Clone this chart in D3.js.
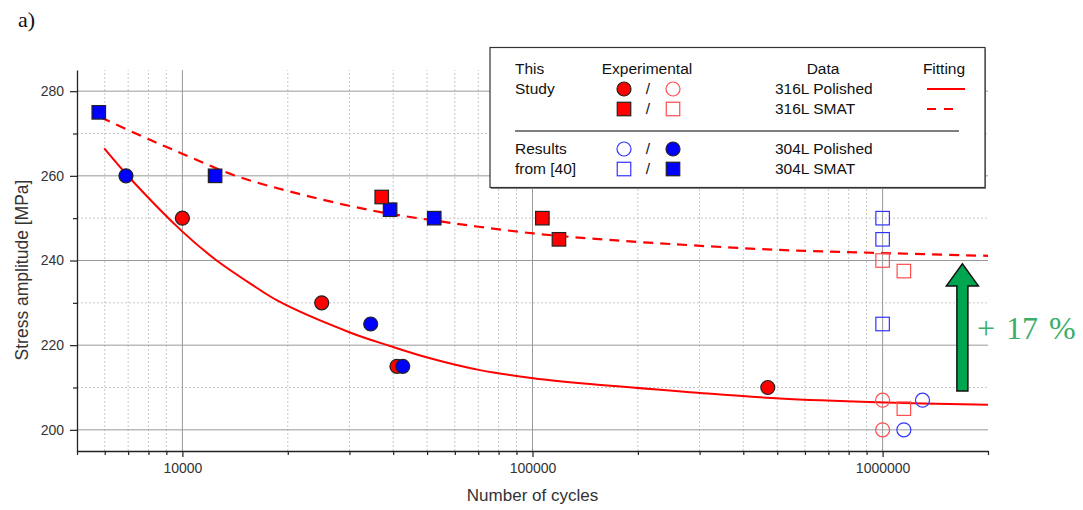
<!DOCTYPE html>
<html lang="en">
<head>
<meta charset="UTF-8">
<title>Stress amplitude vs number of cycles</title>
<style>
  body { margin: 0; background: #fff; }
  svg { display: block; }
</style>
</head>
<body>
<script src="https://cdn.jsdelivr.net/npm/d3@7"></script>
<script>
// this study, 316L polished: filled = failure, open = run-out
const polished316 = [[10000, 250], [25000, 230], [41000, 215], [470000, 210]];
const polished316Open = [[1000000, 207], [1000000, 200]];
// this study, 316L SMAT
const smat316 = [[37100, 255], [106700, 250], [119000, 245]];
const smat316Open = [[1000000, 240], [1150000, 237.5], [1150000, 205]];
// results from [40], 304L
const polished304 = [[6900, 260], [34500, 225], [42600, 215]];
const polished304Open = [[1300000, 207], [1150000, 200]];
const smat304 = [[5770, 275], [12400, 260], [39200, 252], [52400, 250]];
const smat304Open = [[1000000, 250], [1000000, 245], [1000000, 225]];

// fitting curves
const fitPolished = [[5980, 266.5], [7240, 258.6], [9950, 247.0], [12260, 240.6], [15600, 234.6],
  [19000, 230.2], [30100, 223.0], [39200, 219.8], [51000, 216.9], [70800, 214.1], [100500, 212.2],
  [146000, 210.8], [282000, 208.9], [509000, 207.4], [962000, 206.5], [2000000, 205.9]];
const fitSmat = [[5850, 273.8], [8080, 268.5], [9950, 265.3], [13980, 260.2], [19860, 256.5],
  [34360, 251.9], [59400, 248.8], [100500, 246.4], [146000, 245.2], [247000, 243.9],
  [509000, 242.5], [962000, 241.8], [2000000, 241.1]];

const xMajor = [10000, 100000, 1000000];
const xMinor = [5000, 6000, 7000, 8000, 9000, 20000, 30000, 40000, 50000, 60000, 70000, 80000, 90000,
  200000, 300000, 400000, 500000, 600000, 700000, 800000, 900000, 2000000];
const yMajor = [200, 220, 240, 260, 280];
const yMinor = [210, 230, 250, 270];

const gain = {n: 1690000, from: 209.2, to: 239.2, label: '+ 17 %'};

const w = 1083, h = 510;
const svg = d3.select('body').append('svg').attr('width', w).attr('height', h)
  .style('font-family', '"Liberation Sans", Arial, sans-serif');

const x = d3.scaleLog().domain([5000, 2000000]).range([77, 988]);
const y = d3.scaleLinear().domain([195, 285]).range([451, 70]);

// grid
const grid = svg.append('g');
grid.selectAll('.gxm').data(xMinor.filter(d => d > 5000 && d < 2000000)).enter().append('line')
  .attr('x1', d => x(d)).attr('x2', d => x(d)).attr('y1', y(195)).attr('y2', y(285))
  .attr('stroke', '#c8c8c8').attr('stroke-dasharray', '2,2');
grid.selectAll('.gym').data(yMinor).enter().append('line')
  .attr('x1', x(5000)).attr('x2', x(2000000)).attr('y1', d => y(d)).attr('y2', d => y(d))
  .attr('stroke', '#c8c8c8').attr('stroke-dasharray', '2,2');
grid.selectAll('.gxM').data(xMajor).enter().append('line')
  .attr('x1', d => x(d)).attr('x2', d => x(d)).attr('y1', y(195)).attr('y2', y(285))
  .attr('stroke', '#999');
grid.selectAll('.gyM').data(yMajor).enter().append('line')
  .attr('x1', x(5000)).attr('x2', x(2000000)).attr('y1', d => y(d)).attr('y2', d => y(d))
  .attr('stroke', '#999');

// axes
const xAxis = svg.append('g').attr('transform', `translate(0,${y(195)})`)
  .call(d3.axisBottom(x).tickValues(xMinor.concat(xMajor))
    .tickFormat(d => xMajor.includes(d) ? d3.format('d')(d) : '').tickSizeOuter(0));
xAxis.selectAll('.tick line').attr('y2', d => xMajor.includes(d) ? 6 : 4);
xAxis.selectAll('.tick text').attr('y', 12);
const yAxis = svg.append('g').attr('transform', `translate(${x(5000)},0)`)
  .call(d3.axisLeft(y).tickValues(yMinor.concat(yMajor))
    .tickFormat(d => yMajor.includes(d) ? d : '').tickSizeOuter(0));
yAxis.selectAll('.tick line').attr('x2', d => yMajor.includes(d) ? -7 : -4);
yAxis.selectAll('.tick text').attr('x', -13);
svg.selectAll('.domain').attr('stroke', '#222').attr('stroke-width', 1.3);
svg.selectAll('.tick line').attr('stroke', '#222').attr('stroke-width', 1.2);
svg.selectAll('.tick text').attr('fill', '#333').style('font-size', '14px')
  .style('font-family', '"Liberation Sans", Arial, sans-serif');

svg.append('text').attr('x', (x(5000) + x(2000000)) / 2).attr('y', 501).attr('text-anchor', 'middle')
  .attr('fill', '#333').style('font-size', '17px').text('Number of cycles');
svg.append('text').attr('transform', 'translate(28,270) rotate(-90)')
  .attr('text-anchor', 'middle').attr('fill', '#333').style('font-size', '17.5px')
  .text('Stress amplitude [MPa]');

// fits
const line = d3.line().x(d => x(d[0])).y(d => y(d[1])).curve(d3.curveCatmullRom.alpha(0.5));
svg.append('path').datum(fitPolished).attr('d', line).attr('fill', 'none')
  .attr('stroke', '#ff0000').attr('stroke-width', 2);
svg.append('path').datum(fitSmat).attr('d', line).attr('fill', 'none')
  .attr('stroke', '#ff0000').attr('stroke-width', 2.2).attr('stroke-dasharray', '10,7');

// markers
const R = 7, S = 13.5;
function circles(data, fill, stroke, sw) {
  svg.append('g').selectAll('circle').data(data).enter().append('circle')
    .attr('cx', d => x(d[0])).attr('cy', d => y(d[1])).attr('r', R)
    .attr('fill', fill).attr('stroke', stroke).attr('stroke-width', sw);
}
function squares(data, fill, stroke, sw) {
  svg.append('g').selectAll('rect').data(data).enter().append('rect')
    .attr('x', d => x(d[0]) - S / 2).attr('y', d => y(d[1]) - S / 2)
    .attr('width', S).attr('height', S)
    .attr('fill', fill).attr('stroke', stroke).attr('stroke-width', sw);
}
circles(polished316Open, 'none', '#ff4d4d', 1.2);
circles(polished304Open, 'none', '#3333ff', 1.2);
squares(smat316Open, 'none', '#ff4d4d', 1.2);
squares(smat304Open, 'none', '#3333ff', 1.2);
squares(smat304, '#0000ff', '#222', 1.2);
squares(smat316, '#ff0000', '#222', 1.2);
circles(polished316, '#ff0000', '#222', 1.2);
circles(polished304, '#0000ff', '#222', 1.2);

// legend
const lg = svg.append('g').style('font-size', '15.5px').attr('fill', '#111');
lg.append('rect').attr('x', 491).attr('y', 49).attr('width', 495).attr('height', 140).attr('fill', '#888');
lg.append('rect').attr('x', 490).attr('y', 47.5).attr('width', 495).attr('height', 140)
  .attr('fill', '#fff').attr('stroke', '#333').attr('stroke-width', 1.2);
const lt = (tx, ty, s, anchor) => lg.append('text').attr('x', tx).attr('y', ty)
  .attr('text-anchor', anchor || 'start').text(s);
lt(515, 74, 'This'); lt(515, 94, 'Study');
lt(647, 74, 'Experimental', 'middle'); lt(823, 74, 'Data', 'middle'); lt(944, 74, 'Fitting', 'middle');
lt(515, 154, 'Results'); lt(515, 174, 'from [40]');
const rows = [
  {cy: 89, shape: 'c', a: ['#ff0000', '#222'], b: ['none', '#ff4d4d'], label: '316L Polished', fit: null},
  {cy: 109, shape: 's', a: ['#ff0000', '#222'], b: ['none', '#ff4d4d'], label: '316L SMAT', fit: '9,8'},
  {cy: 149, shape: 'c', a: ['none', '#3333ff'], b: ['#0000ff', '#222'], label: '304L Polished'},
  {cy: 169, shape: 's', a: ['none', '#3333ff'], b: ['#0000ff', '#222'], label: '304L SMAT'}
];
rows.forEach(r => {
  [[624, r.a], [673, r.b]].forEach(([cx, st]) => {
    if (r.shape === 'c') lg.append('circle').attr('cx', cx).attr('cy', r.cy).attr('r', R)
      .attr('fill', st[0]).attr('stroke', st[1]).attr('stroke-width', 1.2);
    else lg.append('rect').attr('x', cx - S / 2).attr('y', r.cy - S / 2).attr('width', S).attr('height', S)
      .attr('fill', st[0]).attr('stroke', st[1]).attr('stroke-width', 1.2);
  });
  lt(648, r.cy + 5, '/', 'middle');
  lt(775, r.cy + 5, r.label);
  if (r.fit !== undefined) lg.append('line').attr('x1', 927).attr('x2', r.fit ? 953 : 965)
    .attr('y1', r.cy).attr('y2', r.cy).attr('stroke', '#ff0000').attr('stroke-width', 2)
    .attr('stroke-dasharray', r.fit);
});
lg.append('line').attr('x1', 515).attr('x2', 959).attr('y1', 131).attr('y2', 131)
  .attr('stroke', '#555').attr('stroke-width', 1.5);

// gain arrow
const ax = x(gain.n), tip = y(gain.to), base = y(gain.from);
const hw = 5.5, hh = 16, hl = 22;
svg.append('path')
  .attr('d', `M${ax - hw},${base} L${ax - hw},${tip + hl} L${ax - hh},${tip + hl} L${ax},${tip}
    L${ax + hh},${tip + hl} L${ax + hw},${tip + hl} L${ax + hw},${base} Z`)
  .attr('fill', '#00a54f').attr('stroke', '#111').attr('stroke-width', 1.5);
svg.append('text').attr('x', 977).attr('y', 339).attr('fill', '#3aae6c')
  .style('font-family', '"Liberation Serif", "Times New Roman", serif').style('font-size', '32px')
  .style('word-spacing', '3px').attr('xml:space', 'preserve').text(gain.label);

svg.append('text').attr('x', 18).attr('y', 27)
  .style('font-family', '"Liberation Serif", "Times New Roman", serif').style('font-size', '22px')
  .attr('fill', '#111').text('a)');
</script>
</body>
</html>
